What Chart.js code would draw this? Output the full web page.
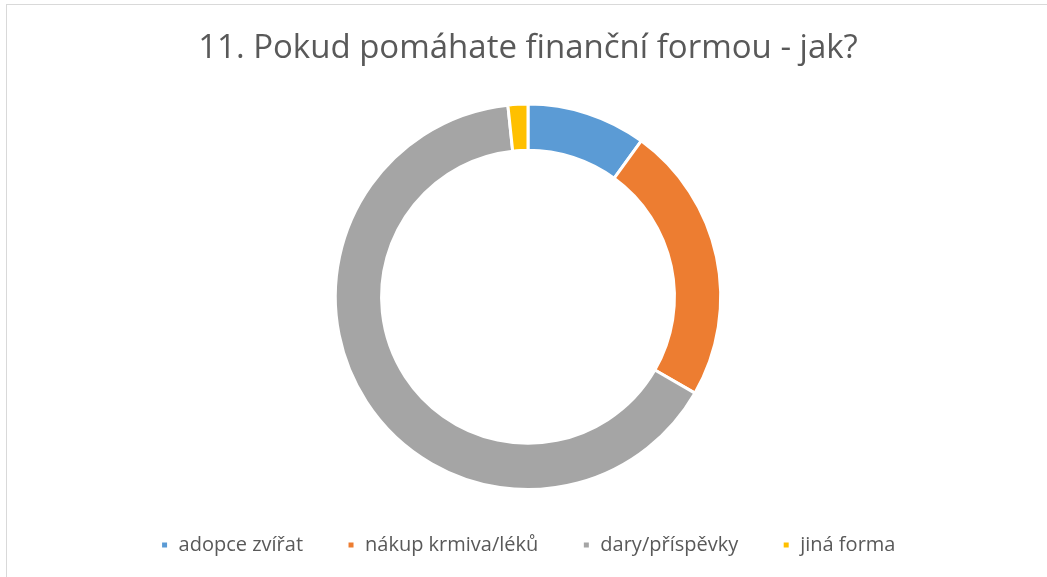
<!DOCTYPE html>
<html>
<head>
<meta charset="utf-8">
<script src="https://cdn.jsdelivr.net/npm/chart.js@4"></script>
<style>
  html, body { margin: 0; padding: 0; background: #fff; overflow: hidden; }
  #frame { position: absolute; left: 6px; top: 4px; width: 1100px; height: 620px; border: 1px solid #d9d9d9; }
  #wrap { position: absolute; left: 0; top: 0; width: 1047px; height: 577px; }
</style>
</head>
<body>
<div id="frame"></div>
<div id="wrap"><canvas id="chart"></canvas></div>
<script>
var categories = ['adopce zvířat', 'nákup krmiva/léků', 'dary/příspěvky', 'jiná forma'];
var values = [6, 14, 39, 1];
var colors = ['#5b9bd5', '#ed7d31', '#a5a5a5', '#ffc000'];

var ctx = document.getElementById('chart').getContext('2d');
new Chart(ctx, {
  type: 'doughnut',
  data: {
    labels: categories,
    datasets: [{
      data: values,
      backgroundColor: colors,
      borderColor: '#ffffff',
      borderWidth: 3,
      hoverOffset: 0
    }]
  },
  options: {
    responsive: true,
    maintainAspectRatio: false,
    animation: false,
    cutout: '76%',
    layout: { padding: { left: 9, right: 0, top: 0, bottom: 12 } },
    plugins: {
      title: {
        display: true,
        text: '11. Pokud pomáhate finanční formou - jak?',
        color: '#595959',
        font: { family: 'Open Sans', size: 33, weight: 'normal' },
        padding: { top: 29, bottom: 34 }
      },
      legend: {
        position: 'bottom',
        labels: {
          color: '#595959',
          font: { family: 'Open Sans', size: 20 },
          boxWidth: 8,
          boxHeight: 8,
          padding: 44
        }
      },
      tooltip: { enabled: false }
    }
  }
});
</script>
</body>
</html>
